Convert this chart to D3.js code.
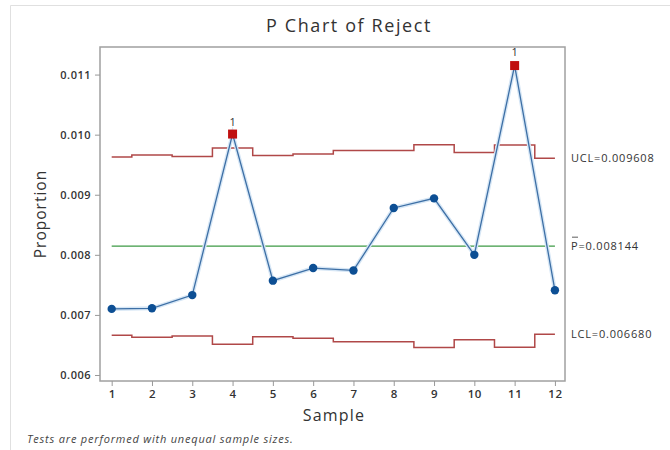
<!DOCTYPE html>
<html><head><meta charset="utf-8">
<script src="https://cdn.jsdelivr.net/npm/d3@7"></script>
<style>body{margin:0;background:#fff}svg{display:block}</style>
</head><body>
<svg id="c" width="670" height="450"></svg>
<script>
const samples = [1,2,3,4,5,6,7,8,9,10,11,12];
const proportions = [0.00710,0.00711,0.00733,0.01001,0.00757,0.00778,0.00774,0.00878,0.00894,0.00800,0.01115,0.00741];
const ucl = [0.009627,0.009660,0.009637,0.009776,0.009653,0.009677,0.009736,0.009736,0.009831,0.009703,0.009826,0.009608];
const lcl = [0.006661,0.006628,0.006651,0.006512,0.006635,0.006611,0.006552,0.006552,0.006457,0.006585,0.006462,0.006680];
const pbar = 0.008144;
const outOfControl = [4,11];
const yTicks = [0.006,0.007,0.008,0.009,0.010,0.011];
const limitLabels = [["UCL=0.009608",0.009608],["P=0.008144",0.008144],["LCL=0.006680",0.006680]];

const svg = d3.select("#c");
const font = "'Open Sans', 'Noto Sans', sans-serif";
const L=100,R=565,T=47,B=381;
const x = d3.scaleLinear().domain([0.71,12.25]).range([L,R]);
const y = d3.scaleLinear().domain([0.0059,0.011459]).range([B,T]);

// outer light border
svg.append("path").attr("d","M10.5,450 V5.5 H670").attr("fill","none").attr("stroke","#e0e0e0").attr("stroke-width",1);

svg.append("text").attr("x",349).attr("y",32).attr("text-anchor","middle")
  .attr("font-family",font).attr("font-size",18).attr("letter-spacing",1.6).attr("fill","#333").text("P Chart of Reject");

// frame
svg.append("rect").attr("x",L).attr("y",T).attr("width",R-L).attr("height",B-T)
  .attr("fill","none").attr("stroke","#a0a0a0").attr("stroke-width",1.5);

// axes
const ya = svg.append("g").attr("transform",`translate(${L},0)`)
  .call(d3.axisLeft(y).tickValues(yTicks).tickFormat(d3.format(".3f")).tickSize(5).tickPadding(4));
const xa = svg.append("g").attr("transform",`translate(0,${B})`)
  .call(d3.axisBottom(x).tickValues(samples).tickFormat(d3.format("d")).tickSize(5).tickPadding(4));
[ya,xa].forEach(a=>{
  a.select(".domain").remove();
  a.selectAll(".tick line").attr("stroke","#999");
  a.selectAll("text").attr("font-family",font).attr("font-size",11).attr("font-weight",600)
    .attr("letter-spacing",0.5).attr("fill","#333");
});
xa.selectAll("text").attr("font-size",11.5);

svg.append("text").attr("transform","translate(46,214) rotate(-90)").attr("text-anchor","middle")
  .attr("font-family",font).attr("font-size",15.5).attr("letter-spacing",1).attr("fill","#333").text("Proportion");
svg.append("text").attr("x",334).attr("y",421).attr("text-anchor","middle")
  .attr("font-family",font).attr("font-size",16).attr("letter-spacing",1.2).attr("fill","#333").text("Sample");
svg.append("text").attr("x",27).attr("y",443).attr("font-style","italic")
  .attr("font-family",font).attr("font-size",11).attr("letter-spacing",0.8).attr("fill","#444").text("Tests are performed with unequal sample sizes.");

// limits
const stepLine = d3.line().x((d,i)=>x(samples[i])).y(d=>y(d)).curve(d3.curveStep);
svg.append("path").attr("d",stepLine(ucl)).attr("fill","none").attr("stroke","#b04848").attr("stroke-width",1.5);
svg.append("path").attr("d",stepLine(lcl)).attr("fill","none").attr("stroke","#b04848").attr("stroke-width",1.5);
svg.append("line").attr("x1",x(1)).attr("x2",x(12)).attr("y1",y(pbar)).attr("y2",y(pbar))
  .attr("stroke","#3c9a45").attr("stroke-width",1.2);

// data line
const dl = d3.line().x((d,i)=>x(samples[i])).y(d=>y(d));
svg.append("path").attr("d",dl(proportions)).attr("fill","none").attr("stroke","#d6e6f5").attr("stroke-width",4);
svg.append("path").attr("d",dl(proportions)).attr("fill","none").attr("stroke","#3d6fa5").attr("stroke-width",1.3);

samples.forEach((s,i)=>{
  if(outOfControl.includes(s)){
    svg.append("rect").attr("x",x(s)-4.5).attr("y",y(proportions[i])-4.5).attr("width",9).attr("height",9).attr("fill","#c01010");
    svg.append("text").attr("x",x(s)).attr("y",y(proportions[i])-(s===11?10:8)).attr("text-anchor","middle")
      .attr("font-family",font).attr("font-size",11).attr("fill","#333").text("1");
  } else {
    svg.append("circle").attr("cx",x(s)).attr("cy",y(proportions[i])).attr("r",4.2).attr("fill","#0d4f94");
  }
});

// right labels
limitLabels.forEach(([t,v])=>{
  svg.append("text").attr("x",571).attr("y",y(v)+4).attr("font-family",font).attr("font-size",11)
    .attr("letter-spacing",0.8).attr("fill","#333").text(t);
});
// bar over P
svg.append("line").attr("x1",572).attr("x2",578).attr("y1",y(pbar)-9).attr("y2",y(pbar)-9).attr("stroke","#333").attr("stroke-width",0.8);
</script>
</body></html>
